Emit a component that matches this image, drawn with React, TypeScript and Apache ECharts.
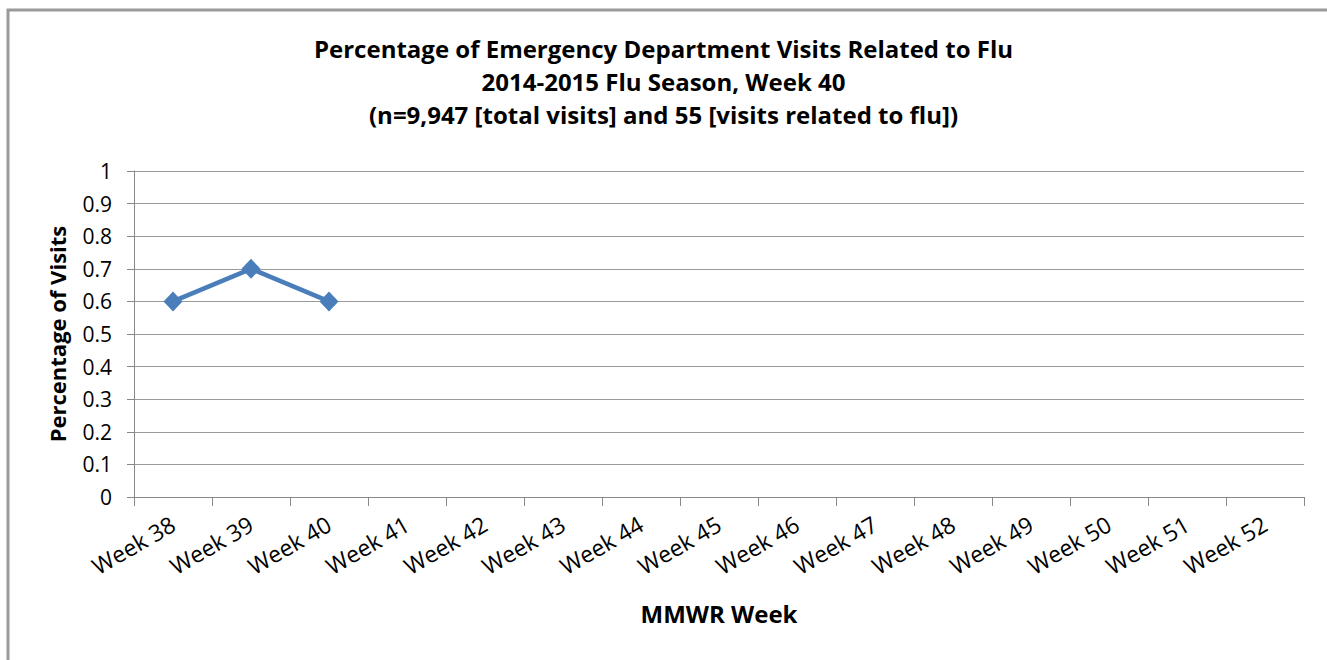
import React, { useEffect, useRef } from "react";
import * as echarts from "echarts";

const weeks = [
  "Week 38", "Week 39", "Week 40", "Week 41", "Week 42", "Week 43", "Week 44", "Week 45",
  "Week 46", "Week 47", "Week 48", "Week 49", "Week 50", "Week 51", "Week 52",
];
const percentVisits: (number | null)[] = [
  0.6, 0.7, 0.6, null, null, null, null, null, null, null, null, null, null, null, null,
];
const titleLines = [
  "Percentage of Emergency Department Visits Related to Flu",
  "2014-2015 Flu Season, Week 40",
  "(n=9,947 [total visits] and 55 [visits related to flu])",
];
const yAxisName = "Percentage of Visits";
const xAxisName = "MMWR Week";

const FONT = "'Open Sans', sans-serif";

export default function App() {
  const ref = useRef<HTMLDivElement>(null);
  useEffect(() => {
    document.body.style.margin = "0";
    const chart = echarts.init(ref.current!, undefined, { renderer: "svg" });
    chart.setOption({
      animation: false,
      backgroundColor: "#fff",
      textStyle: { fontFamily: FONT },
      graphic: [
        {
          type: "rect",
          shape: { x: 8, y: 10, width: 1400, height: 700 },
          style: { fill: "none", stroke: "#9a9a9a", lineWidth: 3 },
          silent: true,
        },
      ],
      title: {
        text: titleLines.join("\n"),
        left: "center",
        top: 32,
        padding: 0,
        textStyle: {
          fontFamily: FONT,
          fontSize: 24,
          fontWeight: "bold",
          color: "#000",
          lineHeight: 33,
        },
      },
      grid: { left: 134, right: 23, top: 171, bottom: 163, containLabel: false },
      xAxis: {
        type: "category",
        data: weeks,
        boundaryGap: true,
        name: xAxisName,
        nameLocation: "middle",
        nameGap: 104,
        nameTextStyle: { fontFamily: FONT, fontSize: 24, fontWeight: "bold", color: "#000" },
        axisLine: { lineStyle: { color: "#888", width: 1 } },
        axisTick: { show: true, length: 9, alignWithLabel: false, lineStyle: { color: "#888" } },
        axisLabel: { rotate: 30, fontSize: 23, color: "#000", margin: 25, fontFamily: FONT, interval: 0 },
        splitLine: { show: false },
      },
      yAxis: {
        type: "value",
        min: 0,
        max: 1,
        interval: 0.1,
        name: yAxisName,
        nameLocation: "middle",
        nameGap: 66,
        nameRotate: 90,
        nameTextStyle: { fontFamily: FONT, fontSize: 22, fontWeight: "bold", color: "#000" },
        axisLine: { show: true, lineStyle: { color: "#888", width: 1 } },
        axisTick: { show: true, length: 7, inside: false, lineStyle: { color: "#888" } },
        axisLabel: {
          fontSize: 21,
          color: "#000",
          margin: 22,
          fontFamily: FONT,
          formatter: (v: number) => String(Math.round(v * 10) / 10),
        },
        splitLine: { show: true, lineStyle: { color: "#9a9a9a", width: 1 } },
      },
      series: [
        {
          type: "line",
          data: percentVisits,
          connectNulls: false,
          symbol: "diamond",
          symbolSize: [19, 20],
          showAllSymbol: true,
          lineStyle: { color: "#4A7EBB", width: 4.5 },
          itemStyle: { color: "#4A7EBB" },
        },
      ],
    });
    return () => chart.dispose();
  }, []);
  return <div ref={ref} style={{ width: 1327, height: 660 }} />;
}
